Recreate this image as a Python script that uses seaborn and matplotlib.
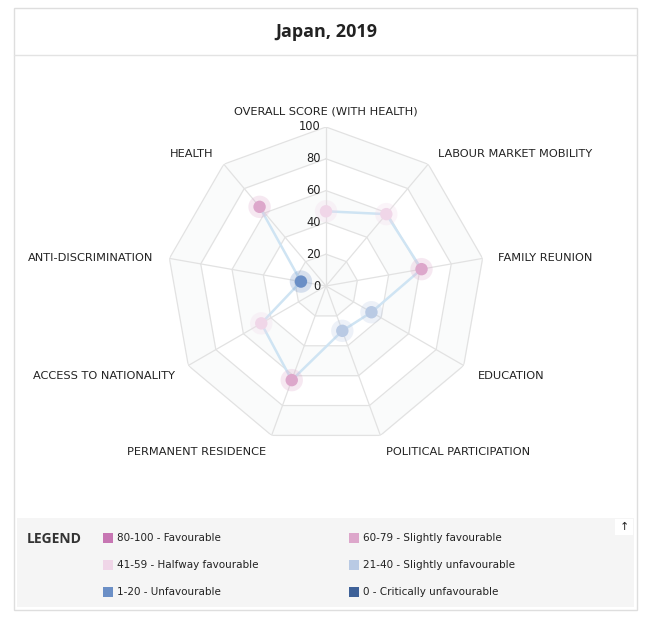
import numpy as np
import pandas as pd
import seaborn as sns
import matplotlib.pyplot as plt
from matplotlib.patches import Rectangle

# MIPEX policy areas and Japan 2019 scores
areas = ["OVERALL SCORE (WITH HEALTH)", "LABOUR MARKET MOBILITY", "FAMILY REUNION",
         "EDUCATION", "POLITICAL PARTICIPATION", "PERMANENT RESIDENCE",
         "ACCESS TO NATIONALITY", "ANTI-DISCRIMINATION", "HEALTH"]
scores = [47, 59, 61, 33, 30, 63, 47, 16, 65]
rings = [20, 40, 60, 80, 100]
tick_labels = ["0", "20", "40", "60", "80", "100"]

band_names = ["80-100 - Favourable", "60-79 - Slightly favourable",
              "41-59 - Halfway favourable", "21-40 - Slightly unfavourable",
              "1-20 - Unfavourable", "0 - Critically unfavourable"]
band_colors = ["#C776B3", "#DDA7CB", "#F0D6E8", "#B9CAE4", "#6B8FC6", "#3E6198"]


def band(v):
    if v >= 80:
        return band_names[0]
    if v >= 60:
        return band_names[1]
    if v >= 41:
        return band_names[2]
    if v >= 21:
        return band_names[3]
    if v >= 1:
        return band_names[4]
    return band_names[5]


n = len(areas)
angles = np.linspace(0, 2 * np.pi, n, endpoint=False)
df = pd.DataFrame({"area": areas, "theta": angles, "score": scores})
df["band"] = df["score"].apply(band)
closed = pd.concat([df, df.iloc[:1]], ignore_index=True)
palette = dict(zip(band_names, band_colors))

sns.set_style("white")
plt.rcParams["font.family"] = ["DejaVu Sans"]

fig = plt.figure(figsize=(6.48, 6.21), dpi=100)

# outer frame, title strip and legend panel
fig.patches.append(Rectangle((14 / 648, 1 - 610 / 621), 623 / 648, 602 / 621,
                             transform=fig.transFigure, fill=False,
                             edgecolor="#dedede", lw=1))
fig.lines.append(plt.Line2D([14 / 648, 637 / 648], [1 - 55 / 621, 1 - 55 / 621],
                            transform=fig.transFigure, color="#e3e3e3", lw=1))
fig.patches.append(Rectangle((17 / 648, 1 - 607 / 621), 617 / 648, 89 / 621,
                             transform=fig.transFigure, facecolor="#f5f5f5",
                             edgecolor="none"))
fig.text(326 / 648, 1 - 32 / 621, "Japan, 2019", ha="center", va="center",
         fontsize=13, fontweight="bold", family="Open Sans", color="#222222")

cx, cy, R = 326, 286, 159
ax = fig.add_axes([(cx - R) / 648, (621 - cy - R) / 621, 2 * R / 648, 2 * R / 621],
                  projection="polar")
ax.set_theta_zero_location("N")
ax.set_theta_direction(-1)
ax.set_ylim(0, 100)
ax.grid(False)
ax.spines["polar"].set_visible(False)
ax.set_xticks([])
ax.set_yticks([])
ax.patch.set_alpha(0)

# polygon grid with faint alternating bands
ring_angles = np.append(angles, angles[0])
prev = 0
for i, r in enumerate(rings):
    if i % 2 == 0:
        ax.fill_between(ring_angles, prev, r, color="#fafbfb", lw=0, zorder=0)
    ax.plot(ring_angles, [r] * len(ring_angles), color="#e2e2e2", lw=0.9, zorder=1)
    prev = r
for a in angles:
    ax.plot([a, a], [0, 100], color="#e2e2e2", lw=0.9, zorder=1)

for v, t in zip([0] + rings, tick_labels):
    ax.annotate(t, (0, v), xytext=(-4, 0), textcoords="offset points",
                ha="right", va="center", fontsize=8.3, color="#222222")

# data line and markers
sns.lineplot(data=closed, x="theta", y="score", sort=False, ax=ax,
             color="#cfe4f3", lw=1.8, zorder=2)
sns.scatterplot(data=df, x="theta", y="score", hue="band", palette=palette,
                s=260, alpha=0.25, linewidth=0, legend=False, ax=ax, zorder=3)
sns.scatterplot(data=df, x="theta", y="score", hue="band", palette=palette,
                s=80, linewidth=0, legend=False, ax=ax, zorder=4)
ax.set_xlabel("")
ax.set_ylabel("")

for a, name in zip(angles, areas):
    s = np.sin(a)
    ha = "center" if abs(s) < 0.1 else ("left" if s > 0 else "right")
    ax.annotate(name, (a, 110), xytext=(0, 0 if abs(s) < 0.1 else -1.5),
                textcoords="offset points", ha=ha, va="center",
                fontsize=8.2, color="#222222", annotation_clip=False)

# legend
fig.text(27 / 648, 1 - 539 / 621, "LEGEND", ha="left", va="center",
         fontsize=10, fontweight="bold", family="Open Sans", color="#333333")
cols = [103, 349]
rows = [538, 565, 592]
for k, (name, col) in enumerate(zip(band_names, band_colors)):
    x = cols[k % 2]
    y = rows[k // 2]
    fig.patches.append(Rectangle((x / 648, 1 - (y + 5) / 621), 10 / 648, 10 / 621,
                                 transform=fig.transFigure, facecolor=col,
                                 edgecolor="none"))
    fig.text((x + 14) / 648, 1 - y / 621, name, ha="left", va="center",
             fontsize=7.5, color="#222222")

fig.patches.append(Rectangle((615 / 648, 1 - 535 / 621), 18 / 648, 16 / 621,
                             transform=fig.transFigure, facecolor="white",
                             edgecolor="none"))
fig.text(624 / 648, 1 - 527 / 621, "\u2191", ha="center", va="center",
         fontsize=8, color="#222222")

fig.savefig("out.png", dpi=100)
